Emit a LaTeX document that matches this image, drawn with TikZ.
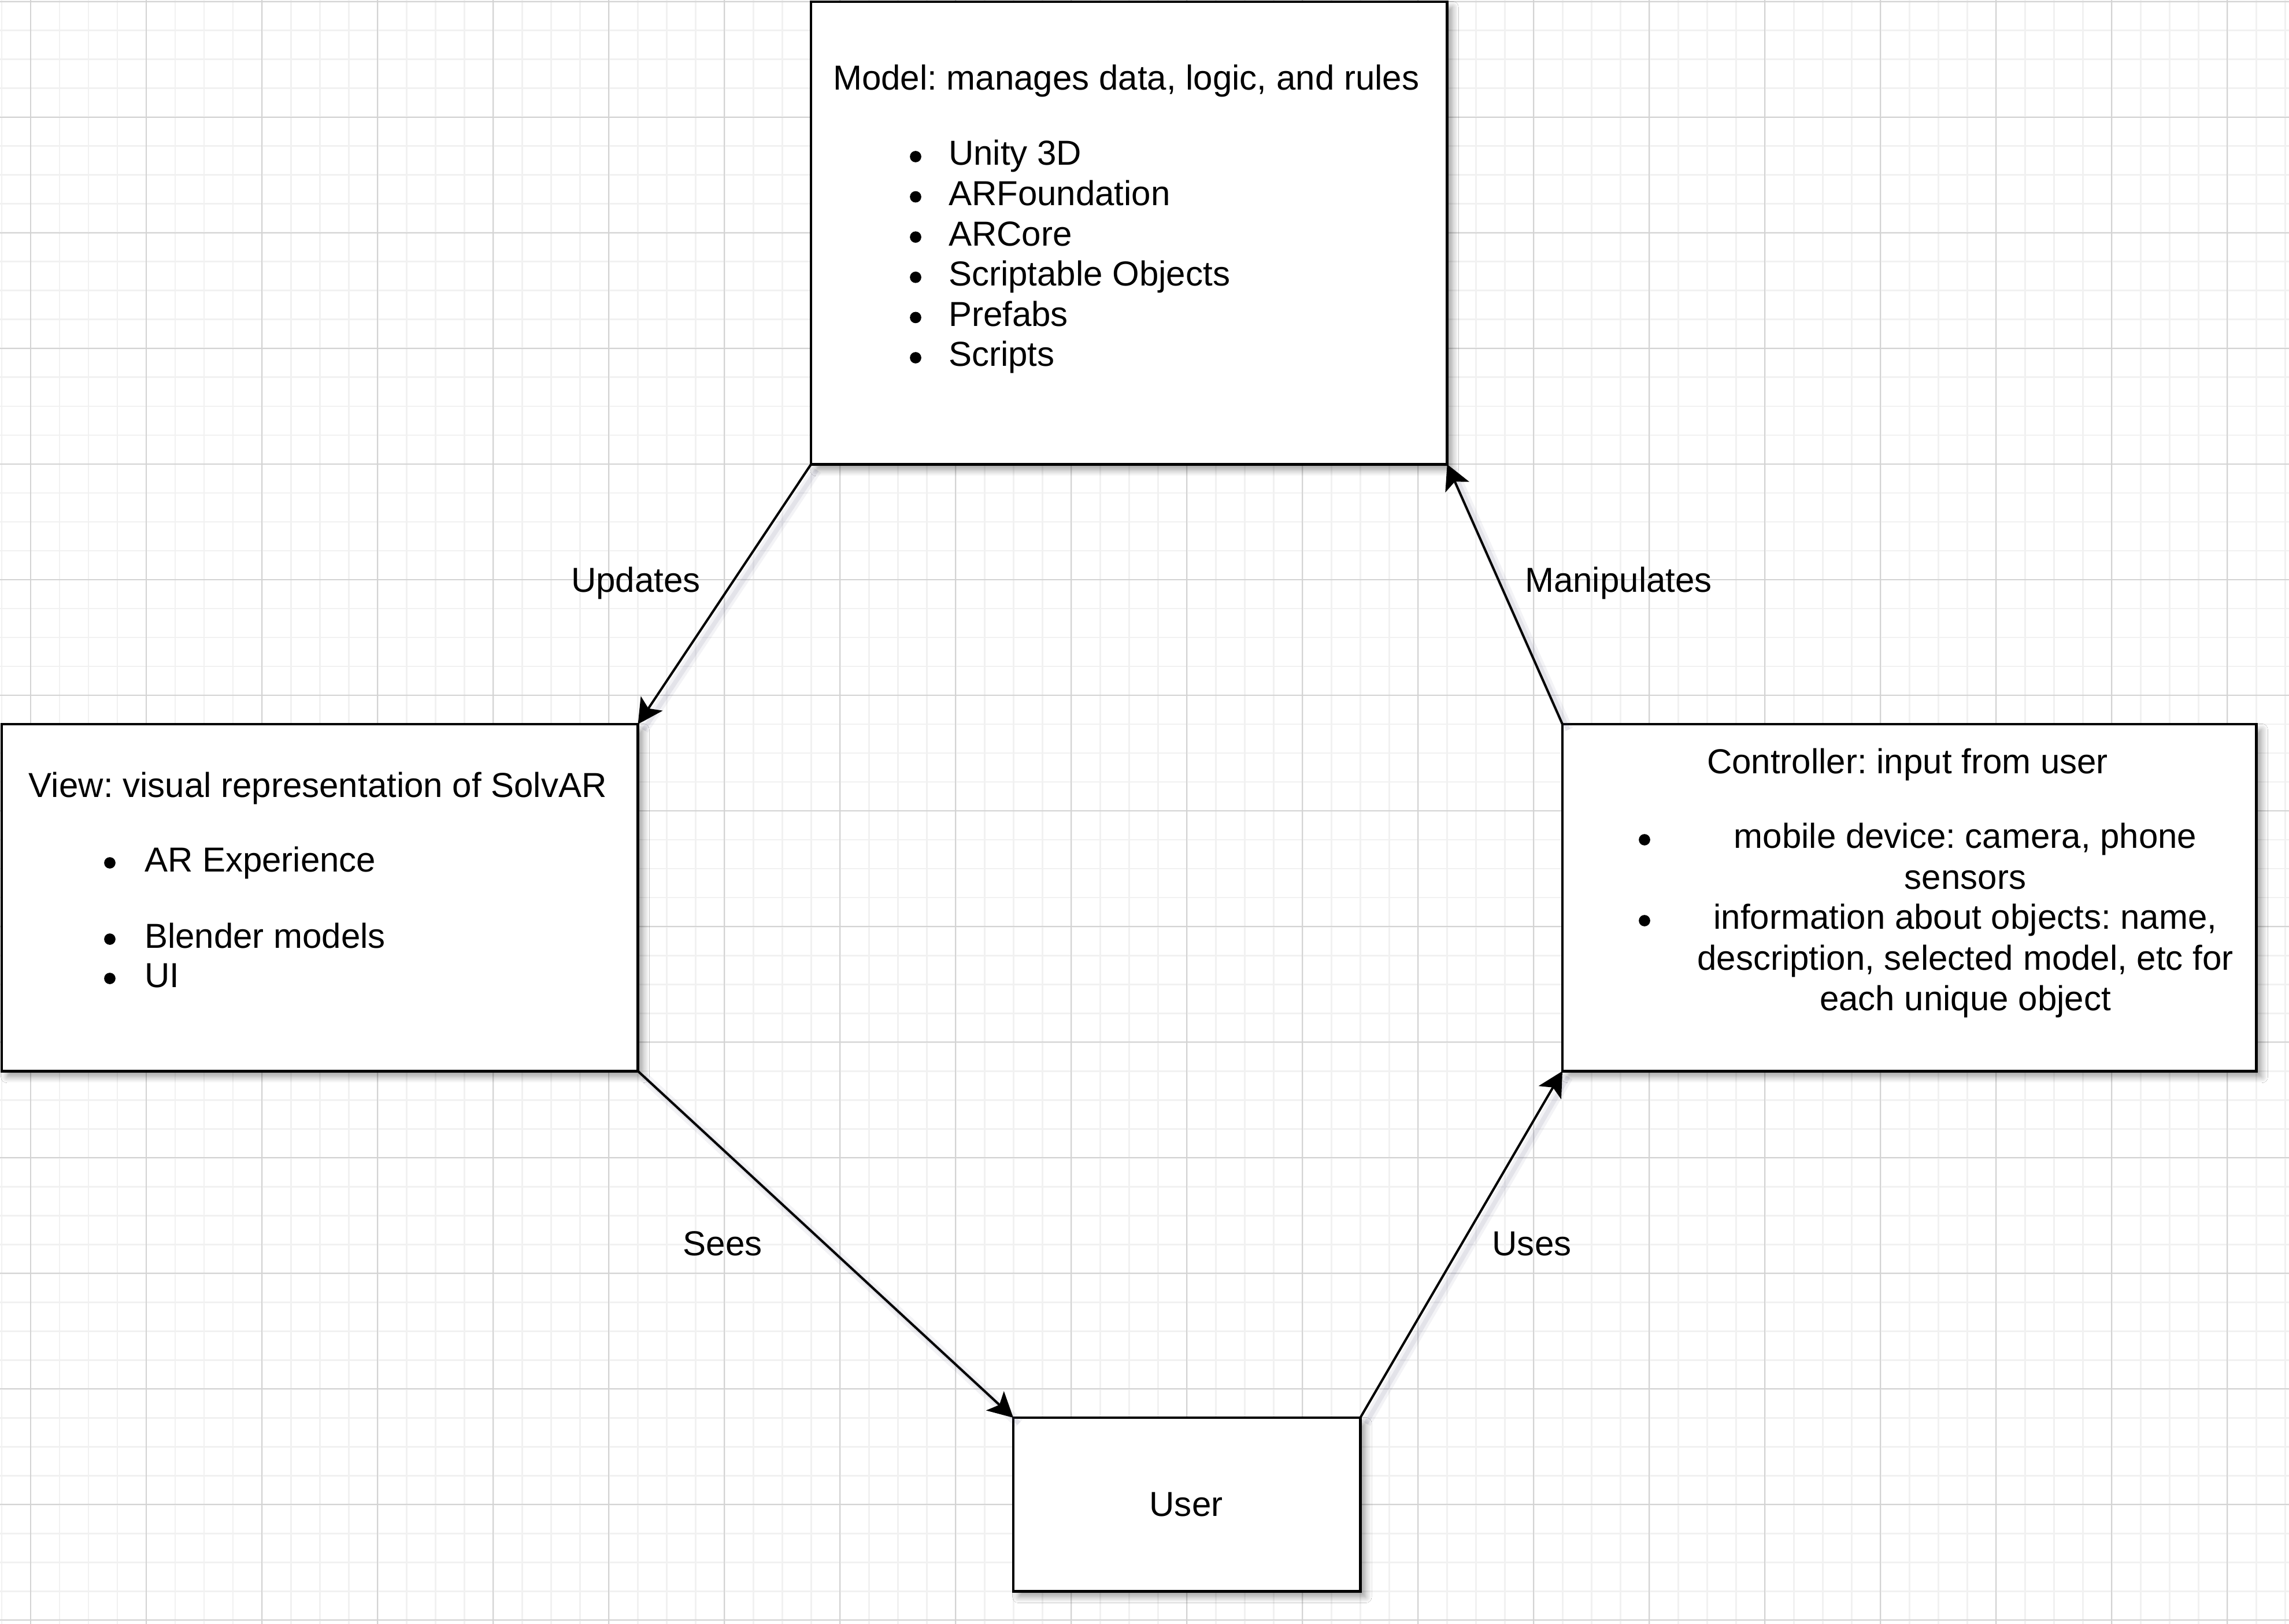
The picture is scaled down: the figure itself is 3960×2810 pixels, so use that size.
\documentclass[tikz,border=0pt]{standalone}
\usepackage{fontspec}
\setmainfont{Liberation Sans}
\usetikzlibrary{arrows.meta,shadows.blur}
\definecolor{gridminor}{HTML}{F1F1F1}
\definecolor{gridmajor}{HTML}{D3D3D3}
\definecolor{shadowcol}{HTML}{5A5A80}
\newcommand\dgfont{\fontsize{17.07pt}{19.92pt}\selectfont\frenchspacing}
\frenchspacing
\tikzset{
  gminor/.style={draw=gridminor, line width=0.85pt},
  gmajor/.style={draw=gridmajor, line width=0.57pt},
  box/.style={rectangle, draw=black, line width=1.35pt, fill=white,
    inner sep=0pt, outer sep=0pt,
    blur shadow={shadow xshift=2.6pt, shadow yshift=-2.8pt,
      shadow blur radius=3pt, shadow opacity=38, shadow blur steps=10}},
  txt/.style={inner sep=0pt, outer sep=0pt, font=\dgfont, text=black},
  lbl/.style={txt, anchor=base},
  bul/.style={fill=black},
  conn/.style={draw=black, line width=1.15pt,
    -{Stealth[length=12.2pt, width=12.8pt, inset=2.9pt]},
    preaction={-, draw=shadowcol, draw opacity=0.07, line width=5pt,
      transform canvas={xshift=2.8pt, yshift=-2.8pt}},
    preaction={-, draw=shadowcol, draw opacity=0.10, line width=2.2pt,
      transform canvas={xshift=2.8pt, yshift=-2.8pt}}}
}
\begin{document}
\begin{tikzpicture}[x=0.01cm, y=-0.01cm]
\useasboundingbox (0,0) rectangle (3960,2810);
\fill[white] (0,0) rectangle (3960,2810);
% grid
\foreach \gx in {3,53,...,3953} \draw[gminor] (\gx,0) -- (\gx,2810);
\foreach \gy in {3,53,...,2803} \draw[gminor] (0,\gy) -- (3960,\gy);
\foreach \gx in {53,253,...,3853} \draw[gmajor] (\gx,0) -- (\gx,2810);
\foreach \gy in {3,203,...,2803} \draw[gmajor] (0,\gy) -- (3960,\gy);

% boxes
\node[box, anchor=north west, minimum width=11cm, minimum height=8cm] (model) at (1403,3) {};
\node[box, anchor=north west, minimum width=11cm, minimum height=6cm] (view) at (3,1253) {};
\node[box, anchor=north west, minimum width=12cm, minimum height=6cm] (ctrl) at (2703,1253) {};
\node[box, anchor=north west, minimum width=6cm, minimum height=3cm] (user) at (1753,2453) {};

% connectors
\draw[conn] (model.south west) -- (view.north east);
\draw[conn] (view.south east) -- (user.north west);
\draw[conn] (user.north east) -- (ctrl.south west);
\draw[conn] (ctrl.north west) -- (model.south east);

% connector labels
\node[lbl] (lupdates) at (1100,1025) {Updates};
\node[lbl] (lmanip) at (2800,1025) {Manipulates};
\node[lbl] (lsees) at (1250,2172) {Sees};
\node[lbl] (luses) at (2650,2172) {Uses};

% Model text
\node[txt, anchor=base west] (mtitle) at (1441,156) {Model: manages data, logic, and rules};
\foreach \yy/\tt/\nm in {286/Unity 3D/m1, 355.6/ARFoundation/m2, 425.2/ARCore/m3,
    494.8/Scriptable Objects/m4, 564.4/Prefabs/m5, 634/Scripts/m6}{
  \fill[bul] (1584,\yy-15) circle[radius=2.8pt];
  \node[txt, anchor=base west] (\nm) at (1641,\yy) {\tt};
}

% View text
\node[txt, anchor=base west] (vtitle) at (50,1379) {View: visual representation of SolvAR};
\foreach \yy/\tt/\nm in {1508/AR Experience/v1, 1640/Blender models/v2, 1708/UI/v3}{
  \fill[bul] (190,\yy-15) circle[radius=2.8pt];
  \node[txt, anchor=base west] (\nm) at (250,\yy) {\tt};
}

% Controller text
\node[txt, anchor=base] (ctitle) at (3300,1338) {Controller: input from user};
\fill[bul] (2845,1453) circle[radius=2.8pt];
\node[txt, align=center] (c1) at (3400,1489) {\strut mobile device: camera, phone\\sensors\strut};
\fill[bul] (2845,1593) circle[radius=2.8pt];
\node[txt, align=center] (c2) at (3400,1664) {\strut information about objects: name,\\description, selected model, etc for\\each unique object\strut};

% User text
\node[txt, anchor=base] (utext) at (2052,2623) {User};
\end{tikzpicture}
\end{document}
